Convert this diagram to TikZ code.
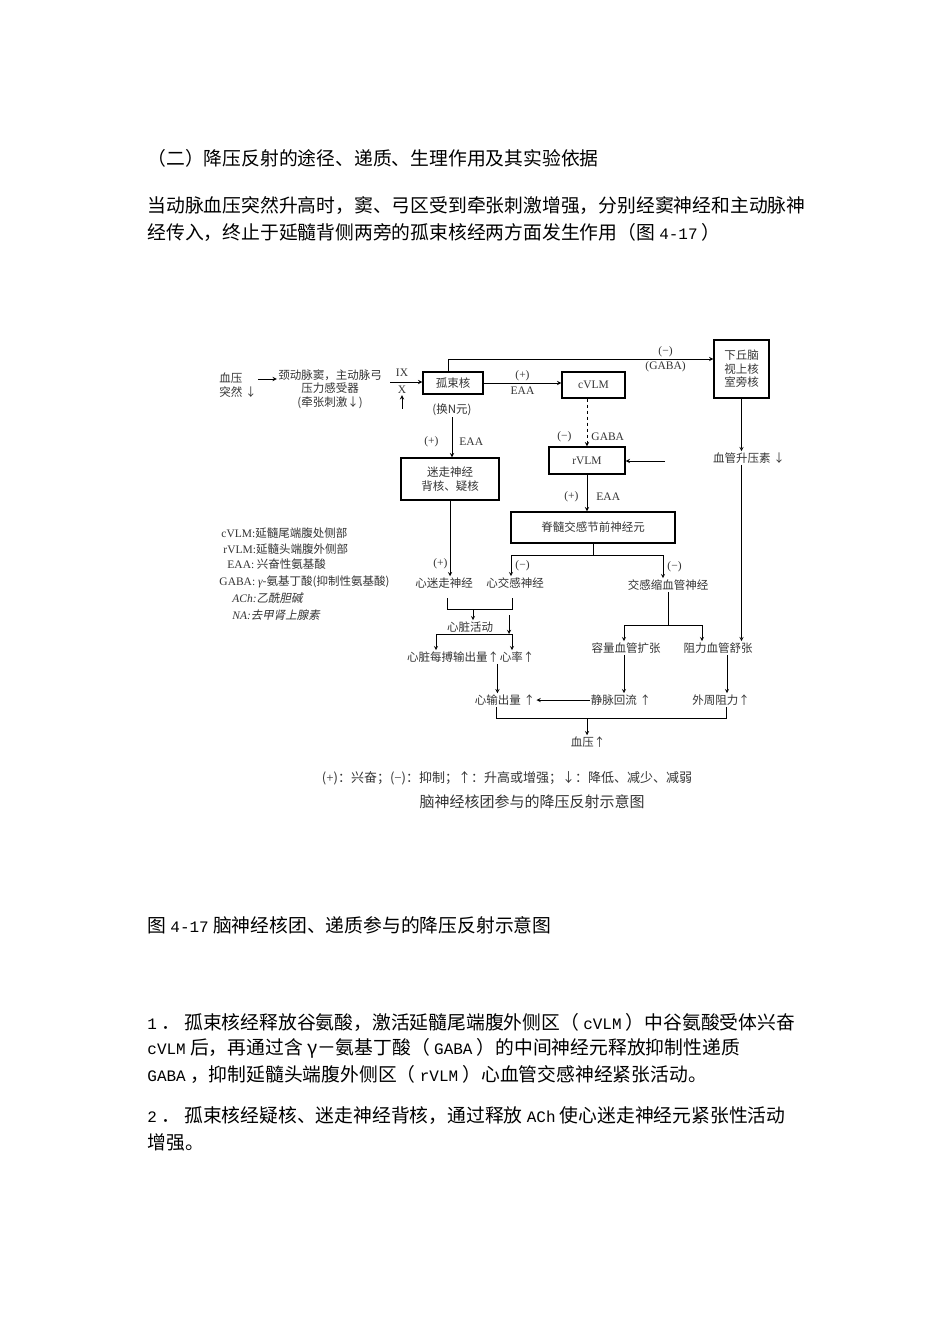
\documentclass[tikz,border=0pt]{standalone}
\usepackage{fontspec}
\setmainfont{Noto Sans CJK SC}
\newfontfamily\latn{Liberation Serif}
\newfontfamily\mono{Liberation Mono}[Scale=0.85]
\newfontfamily\slant{Noto Sans CJK SC}[FakeSlant=0.2]
\newcommand\bodyfont{\fontsize{18.8}{26}\selectfont}
\newcommand\dgfont{\fontsize{11.5}{13.5}\selectfont}

\begin{document}
\begin{tikzpicture}[x=1pt,y=-1pt,>=stealth,line width=0.9pt]
  \tikzstyle{box}=[draw,line width=1.4pt,inner sep=0pt,font=\dgfont,text=black!80,align=center]
  \tikzstyle{txt}=[inner sep=1pt,font=\dgfont,text=black!80,align=center]
  \tikzstyle{lat}=[inner sep=1pt,font=\dgfont\latn,text=black!80]
  \tikzstyle{bodyline}=[anchor=west,inner sep=0pt,font=\bodyfont]
  \useasboundingbox (0,0) rectangle (950,1344);

  % text above the figure
  \node[bodyline] (t0) at (147,158) {（二）降压反射的途径、递质、生理作用及其实验依据};
  \node[bodyline] (t1) at (147,206) {当动脉血压突然升高时，窦、弓区受到牵张刺激增强，分别经窦神经和主动脉神};
  \node[bodyline] (t2) at (147,232) {经传入，终止于延髓背侧两旁的孤束核经两方面发生作用（图 {\mono 4-17} ）};

  % afferent side
  \node[txt,align=left] (bp) at (238,385) {血压\\突然 ↓};
  \node[txt] (baro) at (330,389) {颈动脉窦，主动脉弓\\压力感受器\\(牵张刺激↓)};
  \draw[->] ([yshift=6pt]bp.east) -- ([yshift=6pt]bp.east -| baro.west);
  \node[lat] (n9) at (402,373) {IX};
  \node[lat] (n10) at (402,390) {X};
  \coordinate (nin) at (390,382);

  % nuclei
  \node[box,minimum width=60,minimum height=22] (gsh) at (453,383) {孤束核};
  \node[txt] (hn) at (452,410) {(换N元)};
  \node[box,minimum width=63,minimum height=26,font=\dgfont\latn] (cvlm) at (593.5,385) {cVLM};
  \node[box,minimum width=55,minimum height=58] (hyp) at (741.5,369) {下丘脑\\视上核\\室旁核};
  \node[box,minimum width=76,minimum height=27,font=\dgfont\latn] (rvlm) at (587,460.5) {rVLM};
  \node[box,minimum width=164,minimum height=31] (spn) at (593,527.5) {脊髓交感节前神经元};
  \node[box,minimum width=98,minimum height=42] (vag) at (450,479) {迷走神经\\背核、疑核};
  \coordinate (rin) at (665,461);

  \draw[->] (nin) -- (nin -| gsh.west);
  \draw[<-] (n10.south) -- ++(0,14);
  \draw[->] (gsh.east) -- (gsh.east -| cvlm.west)
    node[lat,midway,above=1pt] {(+)} node[lat,midway,below=2pt] {EAA};
  \draw[->] ([xshift=-5pt]gsh.north) |- ([yshift=10pt]hyp.west)
    node[lat,pos=0.91,above=1pt] {(−)} node[lat,pos=0.91,below=1pt] {(GABA)};
  \draw[->,dashed] (rvlm.north |- cvlm.south) -- (rvlm.north)
    node[lat,pos=0.8,left=14pt] {(−)} node[lat,pos=0.8,right=3pt] {GABA};
  \draw[->] (rin) -- (rin -| rvlm.east);
  \draw[->] (rvlm.south) -- (rvlm.south |- spn.north)
    node[lat,pos=0.6,left=7pt] {(+)} node[lat,pos=0.6,right=8pt] {EAA};
  \draw[->] (hn.south) -- (hn.south |- vag.north)
    node[lat,pos=0.6,left=12pt] {(+)} node[lat,pos=0.6,right=6pt] {EAA};

  % hypothalamus branch
  \node[txt] (avp) at (749,458) {血管升压素 ↓};
  \node[txt] (zl) at (718,648) {阻力血管舒张};
  \draw[->] (hyp.south) -- (hyp.south |- avp.north);
  \draw[->] (hyp.south |- avp.south) -- (hyp.south |- zl.north);

  % efferent nerves
  \node[txt] (xmz) at (444,583) {心迷走神经};
  \node[txt] (xjg) at (515,583) {心交感神经};
  \node[txt] (jsx) at (668,585) {交感缩血管神经};
  \draw[->] (vag.south) -- (vag.south |- xmz.north) node[lat,pos=0.84,left=1pt] {(+)};
  \coordinate (spl) at (511,555);
  \coordinate (spr) at (663,555);
  \draw (spn.south) -- (spn.south |- spl);
  \draw (spl) -- (spr);
  \draw[->] (spl) -- (spl |- xjg.north) node[lat,midway,right=3pt] {(−)};
  \draw[->] (spr) -- (spr |- jsx.north) node[lat,midway,right=3pt] {(−)};

  % heart
  \coordinate (hl) at (447,598);
  \coordinate (hr) at (512,598);
  \coordinate (hm) at (473,609);
  \coordinate (hx) at (509,615);
  \coordinate (hbl) at (436,634);
  \coordinate (hbr) at (512,634);
  \node[txt] (xzhd) at (470,627) {心脏活动};
  \node[txt] (mgxb) at (453,657) {心脏每搏输出量↑};
  \node[txt] (xl) at (517,657) {心率↑};
  \node[txt] (xscl) at (505,700) {心输出量 ↑};
  \draw (hl) -- ++(0,11) -| (hr);
  \draw[->] (hm) -- (hm |- xzhd.north);
  \draw[->] (hx) -- (hx |- hbr);
  \draw[->] (hbr) -- (hbl) -- (hbl |- mgxb.north);
  \draw[->] (hbr) -- (hbr |- xl.north);
  \draw[->] ([xshift=-3pt]mgxb.south east) -- ([xshift=-3pt]mgxb.south east |- xscl.north);

  % vessels
  \node[txt] (rl) at (626,648) {容量血管扩张};
  \node[txt] (jmhl) at (621,700) {静脉回流 ↑};
  \node[txt] (wzzl) at (721,700) {外周阻力↑};
  \coordinate (jl) at (624,625);
  \coordinate (jr) at (702,625);
  \draw (jsx.south) -- (jsx.south |- jl);
  \draw (jl) -- (jr);
  \draw[->] (jl) -- (jl |- rl.north);
  \draw[->] (jr) -- (jr |- zl.north);
  \draw[->] (rl.south -| jl) -- (jl |- jmhl.north);
  \draw[->] ([xshift=9pt]zl.south) -- ([xshift=9pt]zl.south |- wzzl.north);
  \draw[->] (jmhl.west) -- (jmhl.west -| xscl.east);

  % blood pressure
  \coordinate (br) at (726,718);
  \coordinate (bm) at (587,718);
  \node[txt] (bp2) at (588,742) {血压↑};
  \draw ([xshift=-9pt]xscl.south) |- (br) -- (br |- wzzl.south);
  \draw[->] (bm) -- (bm |- bp2.north);

  % abbreviations
  \node[txt,anchor=west] (a1) at (220,533) {{\latn cVLM:}延髓尾端腹处侧部};
  \node[txt,anchor=west] (a2) at (222,549) {{\latn rVLM:}延髓头端腹外侧部};
  \node[txt,anchor=west] (a3) at (226,564) {{\latn EAA:} 兴奋性氨基酸};
  \node[txt,anchor=west] (a4) at (218,582) {{\latn GABA: \itshape γ}-氨基丁酸(抑制性氨基酸)};
  \node[txt,anchor=west] (a5) at (231,598) {{\latn\itshape ACh:}{\slant 乙酰胆碱}};
  \node[txt,anchor=west] (a6) at (231,615) {{\latn\itshape NA:}{\slant 去甲肾上腺素}};

  % key and title of the figure
  \node[txt,font=\fontsize{13}{13}\selectfont] (key) at (507,778)
    {({\latn +})：兴奋；({\latn −})：抑制；↑：升高或增强；↓：降低、减少、减弱};
  \node[txt,font=\fontsize{15}{15}\selectfont] (ttl) at (532,802) {脑神经核团参与的降压反射示意图};

  % text below the figure
  \node[bodyline] (cap) at (147,925) {图 {\mono 4-17} 脑神经核团、递质参与的降压反射示意图};
  \node[bodyline] (p1) at (147,1022) {{\mono 1} ． 孤束核经释放谷氨酸，激活延髓尾端腹外侧区（ {\mono cVLM} ）中谷氨酸受体兴奋};
  \node[bodyline] (p2) at (147,1048) {{\mono cVLM} 后，再通过含 γ－氨基丁酸（ {\mono GABA} ）的中间神经元释放抑制性递质};
  \node[bodyline] (p3) at (147,1074) {{\mono GABA} ，抑制延髓头端腹外侧区（ {\mono rVLM} ）心血管交感神经紧张活动。};
  \node[bodyline] (p4) at (147,1116) {{\mono 2} ． 孤束核经疑核、迷走神经背核，通过释放 {\mono ACh} 使心迷走神经元紧张性活动};
  \node[bodyline] (p5) at (147,1142) {增强。};
\end{tikzpicture}
\end{document}
